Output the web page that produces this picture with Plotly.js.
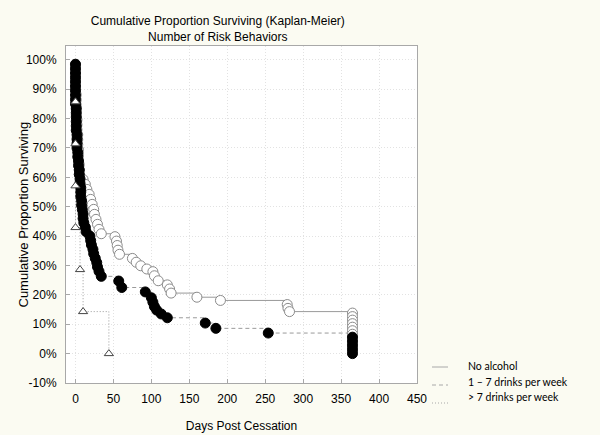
<!DOCTYPE html>
<html>
<head>
<meta charset="utf-8">
<script src="https://cdn.plot.ly/plotly-3.0.1.min.js"></script>
<style>
  html, body { margin: 0; padding: 0; background: #fbfbf2; }
  #chart { width: 600px; height: 435px; }
</style>
</head>
<body>
<div id="chart"></div>
<script>
// ---- Data (days post cessation, cumulative % surviving) ----
const seriesNames = ["No alcohol", "1 \u2013 7 drinks per week", "> 7 drinks per week"];

const noAlcoholDays = [0,0,0,0,0,0,1,1,1,1,1,2,2,2,3,3,3,4,4,4,5,5,5,
  10,13,15,18,20,22,24,25,27,29,31,34,52,54,55,56,58,75,80,86,94,102,104,109,121,124,126,160,191,279,280,282,
  365,365,365,365,365,365,365,365,365,365,365,365];
const noAlcoholSurv = [98.3,96.6,94.9,93.2,91.5,89.8,88.1,86.4,84.7,83.0,81.3,79.6,77.9,76.2,74.5,72.8,71.1,69.4,67.7,66.0,64.3,62.6,61.0,
  59.3,57.6,55.9,54.2,52.5,50.8,49.1,47.4,45.7,44.0,42.3,40.8,39.8,38.3,36.8,35.2,33.8,32.4,31.1,29.9,28.8,27.9,26.5,24.8,23.4,22.0,20.6,19.2,18.1,16.7,15.4,14.3,
  13.8,12.6,11.4,10.2,9.0,7.8,6.6,5.4,4.2,3.0,1.8,0.6];

const lowDays = [0,0,0,0,0,0,0,0,0,0,1,1,1,1,1,1,2,2,2,2,3,3,4,4,5,5,6,6,7,7,7,8,8,9,10,10,11,13,14,
  19,20,21,23,24,26,28,29,31,34,57,61,92,100,102,104,107,113,121,171,185,254,
  365,365,365,365,365];
const lowSurv = [98.5,97.0,95.5,94.0,92.5,91.0,89.5,88.0,86.5,85.0,83.5,82.0,80.5,79.0,77.5,76.0,74.5,73.0,71.5,70.0,68.5,67.0,65.5,64.0,62.5,61.0,59.5,58.0,56.5,55.0,53.5,52.0,50.5,49.0,47.5,46.0,44.5,43.0,41.5,
  40.0,38.5,37.0,35.5,34.0,32.5,31.0,29.5,28.0,26.3,24.7,22.5,21.0,19.0,17.5,16.0,14.8,13.5,12.2,10.4,8.6,7.0,
  5.6,4.2,2.8,1.4,0.0];

const highDays = [0,0,0,0,6,10,44];
const highSurv = [85.7,71.4,57.1,42.9,28.6,14.3,0.0];

const xTickVals = [0,50,100,150,200,250,300,350,400,450];
const yTickVals = [-10,0,10,20,30,40,50,60,70,80,90,100];
const yTickText = yTickVals.map(v => v + "%");

// ---- Styling ----
const lineGray = "#9a9a9a";
const dashes = ["solid", "4px,3px", "1px,2px"];

const traces = [];
const allDays = [noAlcoholDays, lowDays, highDays];
const allSurv = [noAlcoholSurv, lowSurv, highSurv];

// step lines
for (let i = 0; i < 3; i++) {
  traces.push({
    type: "scatter", mode: "lines", name: seriesNames[i],
    x: allDays[i], y: allSurv[i],
    line: { shape: "hv", color: lineGray, width: 1, dash: dashes[i] },
    showlegend: false, hoverinfo: "skip"
  });
}
// markers
const markerStyles = [
  { symbol: "circle", size: 10, color: "#ffffff", line: { color: "#8a8a8a", width: 1 } },
  { symbol: "circle", size: 10, color: "#000000", line: { color: "#000000", width: 1 } },
  { symbol: "triangle-up", size: 8, color: "#ffffff", line: { color: "#444444", width: 1 } }
];
for (let i = 0; i < 3; i++) {
  traces.push({
    type: "scatter", mode: "markers", name: seriesNames[i],
    x: allDays[i], y: allSurv[i],
    marker: markerStyles[i], showlegend: false
  });
}

// ---- Legend drawn as line samples + text (paper coordinates) ----
const plotL = 66, plotR = 417, plotT = 46, plotB = 383;
const px2x = p => (p - plotL) / (plotR - plotL);
const px2y = p => (plotB - p) / (plotB - plotT);
const legendLineY = [367, 385, 403];
const legendTextY = [366, 382, 397];
const shapes = [];
const annotations = [];
for (let i = 0; i < 3; i++) {
  shapes.push({
    type: "line", xref: "paper", yref: "paper",
    x0: px2x(432), x1: px2x(448), y0: px2y(legendLineY[i]), y1: px2y(legendLineY[i]),
    line: { color: "#a8a8a8", width: 1, dash: dashes[i] }
  });
  annotations.push({
    xref: "paper", yref: "paper", x: px2x(466), y: px2y(legendTextY[i]),
    xanchor: "left", yanchor: "middle", showarrow: false,
    text: seriesNames[i],
    font: { family: "Lato, Liberation Sans, sans-serif", size: 10.5, color: "#000" }
  });
}
// y-axis title (placed close to the tick labels as in the reference)
annotations.push({
  xref: "paper", yref: "paper", x: px2x(23), y: 0.5,
  xanchor: "center", yanchor: "middle", showarrow: false, textangle: -90,
  text: "Cumulative Proportion Surviving",
  font: { family: "Liberation Sans, Arial, sans-serif", size: 13, color: "#000" }
});

const layout = {
  width: 600, height: 435,
  paper_bgcolor: "#fbfbf2", plot_bgcolor: "#ffffff",
  font: { family: "Liberation Sans, Arial, sans-serif", size: 12, color: "#000" },
  margin: { l: 66, r: 183, t: 46, b: 52, pad: 0 },
  title: {
    text: "Cumulative Proportion Surviving (Kaplan-Meier)<br>Number of Risk Behaviors",
    font: { family: "Liberation Sans, Arial, sans-serif", size: 12, color: "#000" },
    xref: "container", x: 0.363, xanchor: "center",
    yref: "container", y: 0.942, yanchor: "middle"
  },
  xaxis: {
    range: [-12.5, 450], tickmode: "array", tickvals: xTickVals,
    showgrid: true, gridcolor: "#e2e2e2", griddash: "1px,2px", gridwidth: 1,
    zeroline: false, showline: true, linecolor: "#a8a8a8", linewidth: 1, mirror: true,
    ticks: "inside", ticklen: 4, tickcolor: "#a8a8a8",
    ticklabelstandoff: 5,
    title: { text: "Days Post Cessation", font: { size: 12 }, standoff: 16 }
  },
  yaxis: {
    range: [-10, 104.7], tickmode: "array", tickvals: yTickVals, ticktext: yTickText,
    showgrid: true, gridcolor: "#e2e2e2", griddash: "1px,2px", gridwidth: 1,
    zeroline: false, showline: true, linecolor: "#a8a8a8", linewidth: 1, mirror: true,
    ticks: "inside", ticklen: 4, tickcolor: "#a8a8a8",
    ticklabelstandoff: 6
  },
  showlegend: false,
  shapes: shapes,
  annotations: annotations
};

Plotly.newPlot("chart", traces, layout, { displayModeBar: false, staticPlot: true });
</script>
</body>
</html>
